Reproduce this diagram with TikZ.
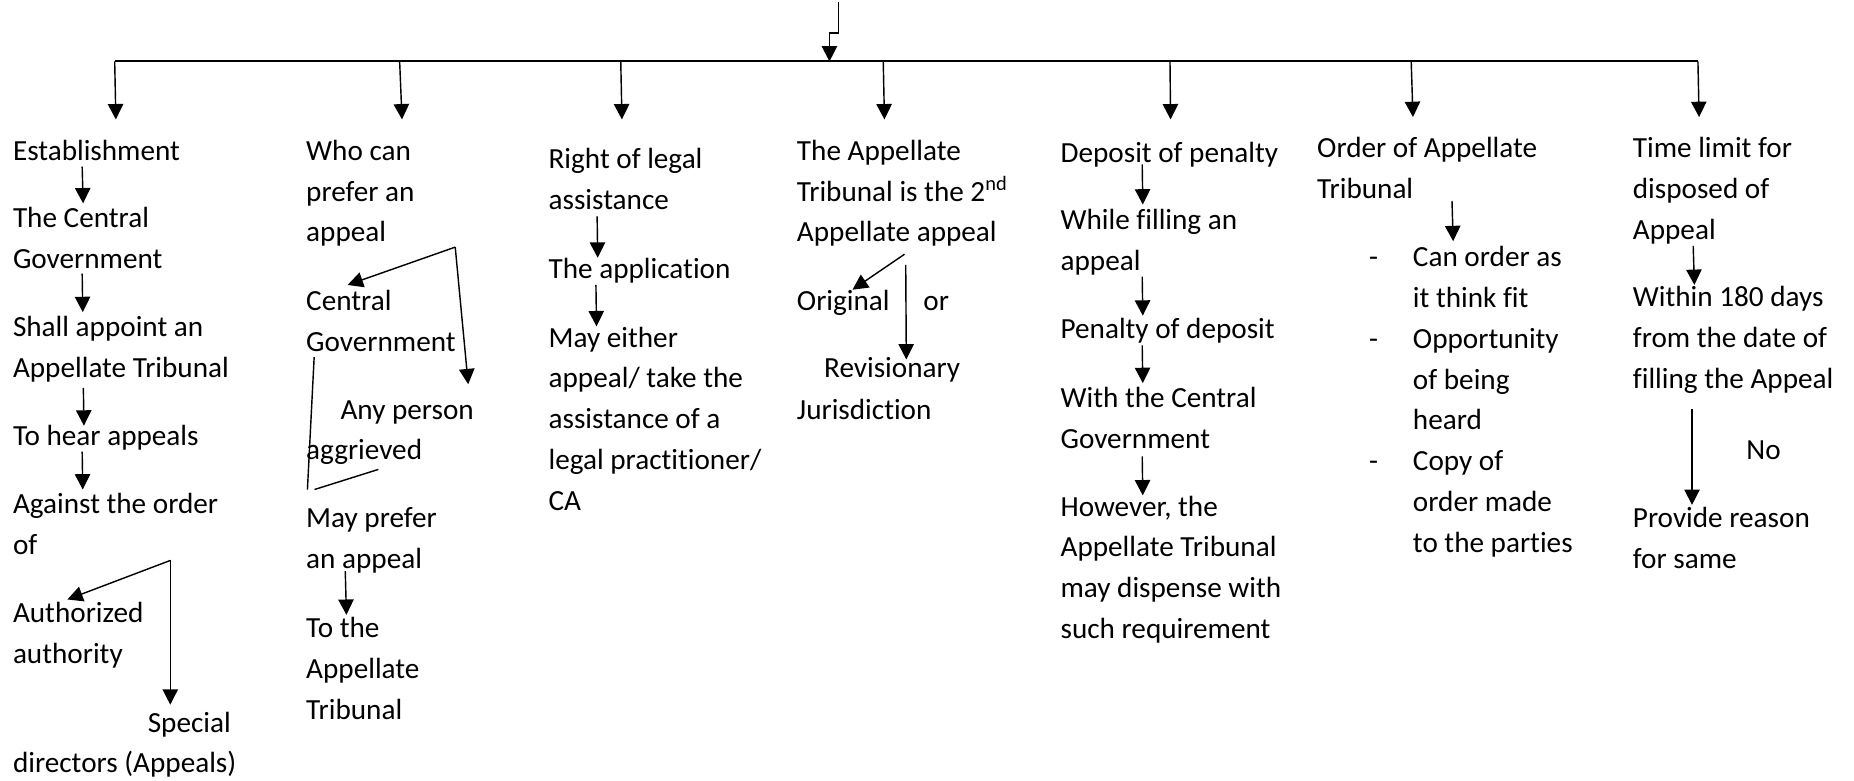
\documentclass[tikz,border=0pt]{standalone}
\usepackage{fontspec}
\setmainfont{Carlito}[Ligatures=NoCommon]
\usetikzlibrary{arrows.meta}
\begin{document}
\begin{tikzpicture}[x=1pt,y=-1pt,
  % multi-line labels sit on the baseline of their last line
  lbl/.style={anchor=base west, align=left, inner sep=0pt, outer sep=0pt, yshift=-1.5pt,
              font=\fontsize{24.7}{34.5}\selectfont},
  conn/.style={line width=1.2pt, black},
  arr/.style={conn, -{Triangle[length=13pt,width=13pt]}},
  bus/.style={line width=1.7pt, black}]
\useasboundingbox (0,0) rectangle (1568,660);

% ---- trunk and bus ----
\coordinate (top)   at (709,2);
\coordinate (jogA)  at (709,28);
\coordinate (jogB)  at (701.5,28);
\coordinate (busIn) at (701.5,52);
\coordinate (busL)  at (97,52);
\coordinate (busR)  at (1436,52);
\draw[bus] (busL) -- (busR);
\draw[conn] (top) -- (jogA) -- (jogB);
\draw[arr] (jogB) -- (busIn);

% ---- branch drops ----
\foreach \n/\xa/\xb/\yb in {1/97/98/101, 2/338/340/101, 3/525/526/101, 4/747/748/101,
                            5/989.5/990/101, 6/1193.5/1195/99, 7/1436/1437/99}{
  \coordinate (bs\n) at (\xa,52);
  \coordinate (be\n) at (\xb,\yb);
  \draw[arr] (bs\n) -- (be\n);
}

% ---- column 1: establishment ----
\node[lbl] (e1) at (11,134) {Establishment};
\node[lbl] (e2) at (11,225.5) {The Central\\Government};
\node[lbl] (e3) at (11,317.5) {Shall appoint an\\Appellate Tribunal};
\node[lbl] (e4) at (11,375) {To hear appeals};
\node[lbl] (e5) at (11,467.5) {Against the order\\of};
\node[lbl] (e6) at (11,559.5) {Authorized\\authority};
\node[lbl] (e7) at (125,618) {Special};
\node[lbl] (e8) at (11,652) {directors (Appeals)};

\coordinate (e1a) at (69.5,141);   \coordinate (e1b) at (70.3,172);
\coordinate (e2a) at (69.5,231.5); \coordinate (e2b) at (70,264);
\coordinate (e3a) at (70.5,328);   \coordinate (e3b) at (71,360);
\coordinate (e4a) at (69.5,382);   \coordinate (e4b) at (70,414);
\coordinate (e5f) at (144,474);
\coordinate (e6t) at (57,507);
\coordinate (e7t) at (144,596);
\draw[arr] (e1a) -- (e1b);
\draw[arr] (e2a) -- (e2b);
\draw[arr] (e3a) -- (e3b);
\draw[arr] (e4a) -- (e4b);
\draw[arr] (e5f) -- (e6t);
\draw[arr] (e5f) -- (e7t);

% ---- column 2: who can prefer an appeal ----
\node[lbl] (w1) at (259,203) {Who can\\prefer an\\appeal};
\node[lbl] (w2) at (259,295.5) {Central\\Government};
\node[lbl] (w3) at (288,353) {Any person};
\node[lbl] (w4) at (259,387) {aggrieved};
\node[lbl] (w5) at (259,479.5) {May prefer\\an appeal};
\node[lbl] (w6) at (259,607) {To the\\Appellate\\Tribunal};

\coordinate (w1f) at (385,209);
\coordinate (w2t) at (294,241);
\coordinate (w3t) at (396,325);
\coordinate (w2l) at (265.7,302);
\coordinate (w2m) at (260,414);
\coordinate (w4a) at (266,414);
\coordinate (w4b) at (320,397);
\coordinate (w5a) at (292,483);   \coordinate (w5b) at (293,520);
\draw[arr] (w1f) -- (w2t);
\draw[arr] (w1f) -- (w3t);
\draw[conn] (w2l) -- (w2m);
\draw[conn] (w4a) -- (w4b);
\draw[arr] (w5a) -- (w5b);

% ---- column 3: right of legal assistance ----
\node[lbl] (r1) at (464,175.5) {Right of legal\\assistance};
\node[lbl] (r2) at (464,234) {The application};
\node[lbl] (r3) at (464,430) {May either\\appeal/ take the\\assistance of a\\legal practitioner/\\CA};
\coordinate (r1a) at (505,183);   \coordinate (r1b) at (505.5,218);
\coordinate (r2a) at (504,241);   \coordinate (r2b) at (504.5,276);
\draw[arr] (r1a) -- (r1b);
\draw[arr] (r2a) -- (r2b);

% ---- column 4: second appellate appeal ----
\node[lbl] (a1) at (674,203) {The Appellate\\Tribunal is the 2\textsuperscript{nd}\\Appellate appeal};
\node[lbl] (a2) at (674,261) {Original};
\node[lbl] (a3) at (781,261) {or};
\node[lbl] (a4) at (697,318) {Revisionary};
\node[lbl] (a5) at (674,353) {Jurisdiction};
\coordinate (a1f) at (765,215);   \coordinate (a2t) at (721,245);
\coordinate (a1v) at (766,224);   \coordinate (a4t) at (766.5,304);
\draw[arr] (a1f) -- (a2t);
\draw[arr] (a1v) -- (a4t);

% ---- column 5: deposit of penalty ----
\node[lbl] (d1) at (897,136) {Deposit of penalty};
\node[lbl] (d2) at (897,227.5) {While filling an\\appeal};
\node[lbl] (d3) at (897,285) {Penalty of deposit};
\node[lbl] (d4) at (897,377.5) {With the Central\\Government};
\node[lbl] (d5) at (897,538.5) {However, the\\Appellate Tribunal\\may dispense with\\such requirement};
\coordinate (d1a) at (966,139);   \coordinate (d1b) at (966.5,173);
\coordinate (d2a) at (966,234);   \coordinate (d2b) at (966.5,267);
\coordinate (d3a) at (966,292);   \coordinate (d3b) at (966.5,324);
\coordinate (d4a) at (966,386);   \coordinate (d4b) at (966.5,419);
\draw[arr] (d1a) -- (d1b);
\draw[arr] (d2a) -- (d2b);
\draw[arr] (d3a) -- (d3b);
\draw[arr] (d4a) -- (d4b);

% ---- column 6: order of appellate tribunal ----
\node[lbl] (o1) at (1114,166.5) {Order of Appellate\\Tribunal};
\node[lbl] (o2) at (1195,465.5) {Can order as\\it think fit\\Opportunity\\of being\\heard\\Copy of\\order made\\to the parties};
\node[lbl] (o3) at (1158,224) {-};
\node[lbl] (o4) at (1158,293) {-};
\node[lbl] (o5) at (1158,396.5) {-};
\coordinate (o1a) at (1228,170);  \coordinate (o1b) at (1229,204);
\draw[arr] (o1a) -- (o1b);

% ---- column 7: time limit ----
\node[lbl] (t1) at (1381,201) {Time limit for\\disposed of\\Appeal};
\node[lbl] (t2) at (1381,327) {Within 180 days\\from the date of\\filling the Appeal};
\node[lbl] (t3) at (1477,387) {No};
\node[lbl] (t4) at (1381,479.5) {Provide reason\\for same};
\coordinate (t1a) at (1432,208);  \coordinate (t1b) at (1433,241);
\coordinate (t2a) at (1431,346);  \coordinate (t2b) at (1431,427);
\draw[arr] (t1a) -- (t1b);
\draw[arr] (t2a) -- (t2b);
\end{tikzpicture}
\end{document}
